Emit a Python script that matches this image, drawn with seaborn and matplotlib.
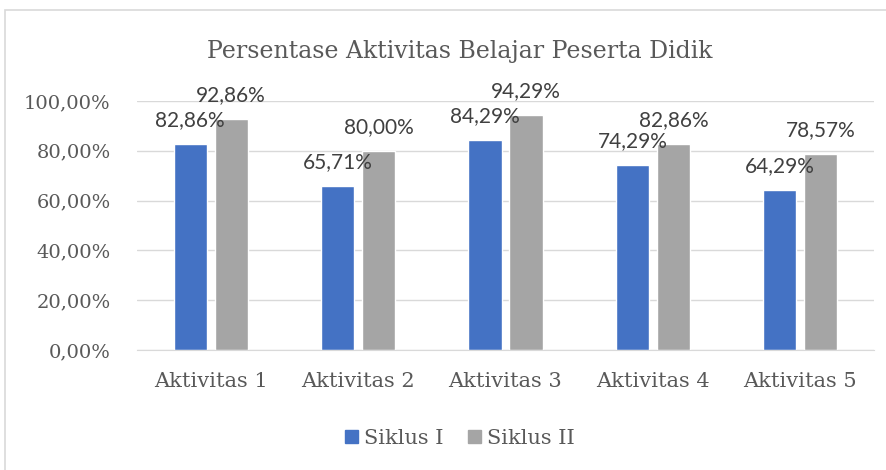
import pandas as pd
import seaborn as sns
import matplotlib.pyplot as plt
from matplotlib.patches import Rectangle, Patch

# data
categories = ["Aktivitas 1", "Aktivitas 2", "Aktivitas 3", "Aktivitas 4", "Aktivitas 5"]
siklus_1 = [82.86, 65.71, 84.29, 74.29, 64.29]
siklus_2 = [92.86, 80.00, 94.29, 82.86, 78.57]
series = ["Siklus I", "Siklus II"]
yticks = [0, 20, 40, 60, 80, 100]

df = pd.DataFrame({
    "kategori": categories * 2,
    "nilai": siklus_1 + siklus_2,
    "siklus": [series[0]] * 5 + [series[1]] * 5,
})

sns.set_style("white")
serif = "DejaVu Serif"
txt = "#595959"
colors = ["#4472C4", "#A5A5A5"]

fig = plt.figure(figsize=(8.87, 4.70), dpi=100)
ax = fig.add_axes([137 / 887, 1 - 350 / 470, 737 / 887, 249 / 470])

sns.barplot(data=df, x="kategori", y="nilai", hue="siklus", palette=colors,
            width=0.556, gap=0.19, ax=ax, legend=False, saturation=1)

for cont in ax.containers:
    labels = [f"{v:.2f}%".replace(".", ",") for v in cont.datavalues]
    ax.bar_label(cont, labels=labels, padding=10, fontsize=15,
                 family="Lato", color="#404040")

ax.set_ylim(0, 100)
ax.set_xlim(-0.5, 4.5)
ax.set_yticks(yticks)
ax.set_yticklabels([f"{t:.2f}%".replace(".", ",") for t in yticks],
                   family=serif, fontsize=14, color=txt)
ax.set_xticks(range(len(categories)))
ax.set_xticklabels(categories, family=serif, fontsize=15, color=txt)
ax.tick_params(axis="y", length=0, pad=19)
ax.tick_params(axis="x", length=0, pad=16)
ax.set_xlabel("")
ax.set_ylabel("")
ax.yaxis.grid(True, color="#D9D9D9", lw=1)
ax.set_axisbelow(True)
for s in ["top", "right", "left"]:
    ax.spines[s].set_visible(False)
ax.spines["bottom"].set_color("#D9D9D9")

fig.text(460 / 887, 1 - 52 / 470, "Persentase Aktivitas Belajar Peserta Didik",
         ha="center", va="center", family=serif, fontsize=17, color=txt)

handles = [Patch(color=c, label=s) for c, s in zip(colors, series)]
fig.legend(handles=handles, loc="center", bbox_to_anchor=(460 / 887, 1 - 438 / 470),
           ncol=2, frameon=False, prop={"family": serif, "size": 15},
           labelcolor=txt, handlelength=0.6, handleheight=0.6, handletextpad=0.3,
           columnspacing=1.2)

# chart border
fig.add_artist(Rectangle((5 / 887, -0.1), 1.2, 1 - 10 / 470 + 0.1,
                         transform=fig.transFigure, fill=False,
                         edgecolor="#D9D9D9", lw=1.2))

fig.savefig("out.png", dpi=100)
